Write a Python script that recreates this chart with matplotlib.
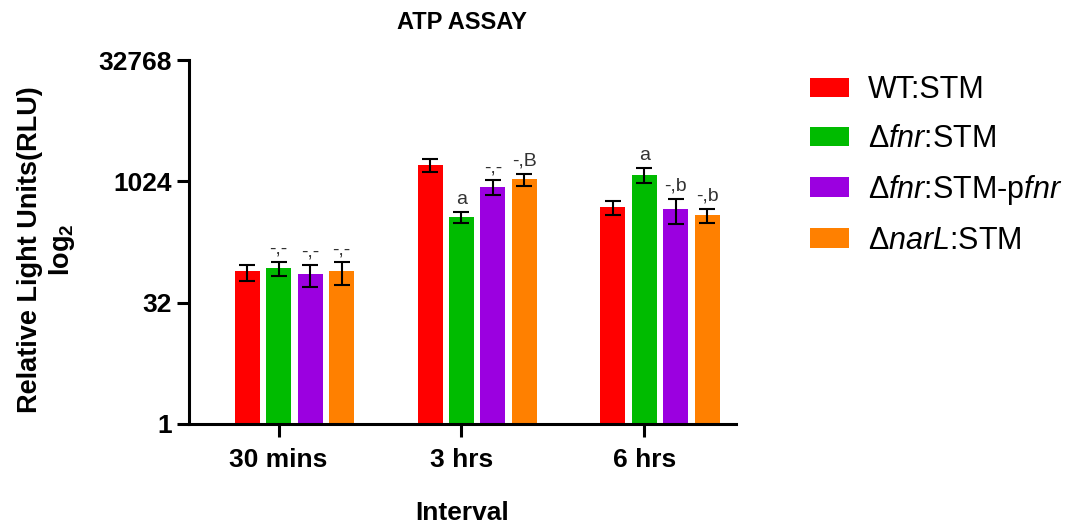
import numpy as np
import matplotlib
matplotlib.use("Agg")
import matplotlib.pyplot as plt
from matplotlib.patches import Patch

plt.rcParams['font.family'] = ['Liberation Sans', 'DejaVu Sans']
plt.rcParams['mathtext.fontset'] = 'custom'
plt.rcParams['mathtext.rm'] = 'Liberation Sans'
plt.rcParams['mathtext.it'] = 'Liberation Sans:italic'
plt.rcParams['mathtext.bf'] = 'Liberation Sans:bold'

# data
intervals = ['30 mins', '3 hrs', '6 hrs']
strains = ['WT:STM', r'$\Delta\mathit{fnr}$:STM', r'$\Delta\mathit{fnr}$:STM-p$\mathit{fnr}$',
           r'$\Delta\mathit{narL}$:STM']
wt_mean = [77, 1630, 490]
fnr_mean = [86, 370, 1225]
pfnr_mean = [72, 870, 464]
narl_mean = [77, 1090, 391]
wt_sd = [17, 300, 100]
fnr_sd = [17, 60, 260]
pfnr_sd = [22, 185, 160]
narl_sd = [24, 190, 78]
wt_note = ['', '', '']
fnr_note = ['-,-', 'a', 'a']
pfnr_note = ['-,-', '-,-', '-,b']
narl_note = ['-,-', '-,B', '-,b']
y_ticks = [1, 32, 1024, 32768]

colors = ['#ff0000', '#00bb00', '#9b00e0', '#ff8000']

means = [wt_mean, fnr_mean, pfnr_mean, narl_mean]
sds = [wt_sd, fnr_sd, pfnr_sd, narl_sd]
notes = [wt_note, fnr_note, pfnr_note, narl_note]

fig = plt.figure(figsize=(10.71, 5.25), dpi=100)
ax = fig.add_axes([0.1765, 0.1924, 0.5105, 0.6933])

x = np.arange(len(intervals))
step = 0.172
width = 0.137
offsets = [-1, 0, 1, 2]

for i in range(4):
    xs = x + offsets[i] * step
    ax.bar(xs, means[i], width=width, color=colors[i], bottom=1, zorder=2)
    ax.errorbar(xs, means[i], yerr=sds[i], fmt='none', ecolor='black',
                elinewidth=1.5, capsize=6, capthick=1.5, zorder=3)
    for j in range(len(x)):
        if notes[i][j]:
            ax.annotate(notes[i][j], (xs[j], means[i][j] + sds[i][j]),
                        xytext=(0, 3), textcoords='offset points',
                        ha='center', va='bottom', fontsize=14, color='#333333')

ax.set_yscale('log', base=2)
ax.set_ylim(1, 32768)
ax.set_xlim(-0.49, 2.5)
ax.set_yticks(y_ticks)
ax.set_yticklabels([str(t) for t in y_ticks])
ax.yaxis.set_minor_locator(matplotlib.ticker.NullLocator())
ax.set_xticks(x)
ax.set_xticklabels(intervals)

for side in ['top', 'right']:
    ax.spines[side].set_visible(False)
for side in ['left', 'bottom']:
    ax.spines[side].set_linewidth(2.2)
ax.tick_params(axis='both', width=2.2, length=9, labelsize=19)
ax.tick_params(axis='x', pad=8)
for lab in ax.get_xticklabels() + ax.get_yticklabels():
    lab.set_fontweight('bold')

ax.set_title('ATP ASSAY', fontsize=17, fontweight='bold', pad=22)
ax.set_xlabel('Interval', fontsize=19, fontweight='bold', labelpad=21)
fig.text(0.028, 0.525, 'Relative Light Units(RLU)', rotation=90, ha='center', va='center',
         fontsize=19.5, fontweight='bold')
fig.text(0.058, 0.525, r'$\mathbf{log}_\mathbf{2}$', rotation=90, ha='center', va='center',
         fontsize=19.5)

handles = [Patch(facecolor=c) for c in colors]
fig.legend(handles, strains, loc='upper left', bbox_to_anchor=(0.756, 0.857),
           frameon=False, fontsize=22, handlelength=1.3, handleheight=0.6,
           handletextpad=0.6, labelspacing=0.62, borderpad=0, borderaxespad=0)

fig.savefig('out.png', dpi=100)
